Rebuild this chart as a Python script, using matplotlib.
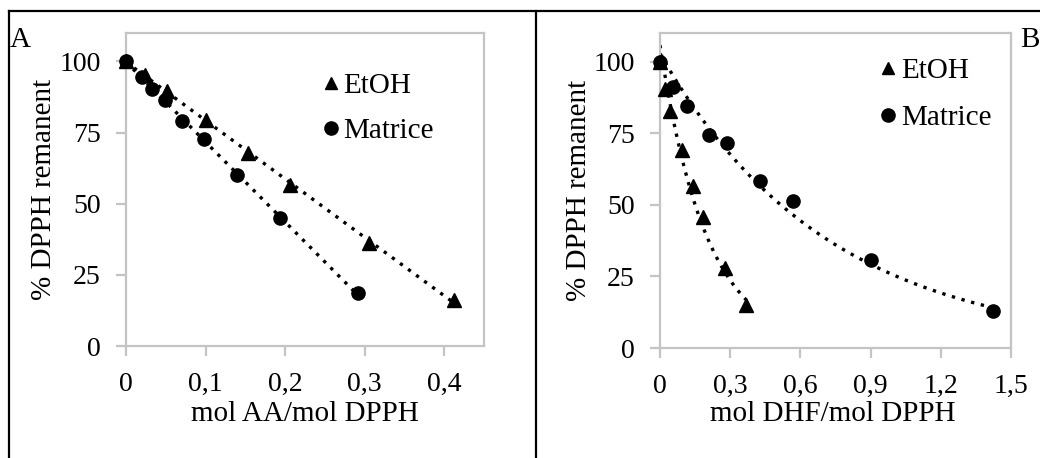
import numpy as np
import matplotlib
matplotlib.use("Agg")
import matplotlib.pyplot as plt
from matplotlib.lines import Line2D

plt.rcParams['font.family'] = ['Liberation Serif', 'DejaVu Serif']

# Panel A data
a_etoh_x = [0.0, 0.024, 0.051, 0.101, 0.153, 0.206, 0.306, 0.412]
a_etoh_y = [100.0, 95.1, 89.5, 79.6, 67.8, 56.7, 36.2, 16.2]
a_mat_x = [0.0, 0.020, 0.033, 0.049, 0.070, 0.098, 0.140, 0.193, 0.291]
a_mat_y = [100.0, 94.6, 90.4, 86.3, 79.2, 72.9, 60.2, 45.0, 18.5]
a_xticks = [0.0, 0.1, 0.2, 0.3, 0.4]
a_xticklabels = ["0", "0,1", "0,2", "0,3", "0,4"]

# Panel B data
b_etoh_x = [0.0, 0.021, 0.043, 0.093, 0.140, 0.185, 0.278, 0.367]
b_etoh_y = [100.0, 90.6, 82.6, 69.2, 56.6, 45.7, 28.1, 15.0]
b_mat_x = [0.0, 0.054, 0.114, 0.211, 0.285, 0.427, 0.567, 0.900, 1.422]
b_mat_y = [100.0, 91.0, 84.4, 74.5, 71.6, 58.4, 51.4, 30.8, 13.0]
b_xticks = [0.0, 0.3, 0.6, 0.9, 1.2, 1.5]
b_xticklabels = ["0", "0,3", "0,6", "0,9", "1,2", "1,5"]

yticks = [0, 25, 50, 75, 100]
series_labels = ["EtOH", "Matrice"]

fig = plt.figure(figsize=(10.4, 4.58), dpi=100)
W, H = 1040, 458

def px_axes(l, r, t, b):
    return fig.add_axes([l / W, 1 - b / H, (r - l) / W, (b - t) / H])

axA = px_axes(126, 484, 33, 346)
axB = px_axes(660, 1011, 33, 348)

grey = '#c4c4c4'
FS_TICK = 20
FS = 21
dot_style = dict(color='black', linestyle=(0, (1, 2)), linewidth=2.4)

def style(ax, xticks, xticklabels, xlim):
    ax.set_xlim(*xlim)
    ax.set_ylim(0, 110)
    ax.set_xticks(xticks)
    ax.set_xticklabels(xticklabels)
    ax.set_yticks(yticks)
    for s in ax.spines.values():
        s.set_color(grey)
        s.set_linewidth(1.6)
    ax.tick_params(axis='both', colors=grey, labelcolor='black', labelsize=FS_TICK,
                   direction='out', length=7, width=1.6)
    ax.tick_params(axis='y', pad=11)
    ax.tick_params(axis='x', pad=12)

def fit_line(x, y):
    p = np.polyfit(x, y, 1)
    xs = np.linspace(min(x), max(x), 100)
    return xs, np.polyval(p, xs)

def fit_exp(x, y):
    p = np.polyfit(x, np.log(y), 1)
    xs = np.linspace(min(x), max(x), 200)
    return xs, np.exp(np.polyval(p, xs))

for ax, ex, ey, mx, my, fitter in [
    (axA, a_etoh_x, a_etoh_y, a_mat_x, a_mat_y, fit_line),
    (axB, b_etoh_x, b_etoh_y, b_mat_x, b_mat_y, fit_exp),
]:
    xs, ys = fitter(ex, ey)
    ax.plot(xs, ys, **dot_style, zorder=2)
    xs, ys = fitter(mx, my)
    ax.plot(xs, ys, **dot_style, zorder=2)
    ax.plot(ex, ey, linestyle='none', marker='^', markersize=9.5, color='black',
            label=series_labels[0], zorder=3, clip_on=False)
    ax.plot(mx, my, linestyle='none', marker='o', markersize=9.5, color='black',
            label=series_labels[1], zorder=3, clip_on=False)

style(axA, a_xticks, a_xticklabels, (0, 0.45))
style(axB, b_xticks, b_xticklabels, (0, 1.5))

axA.set_xlabel("mol AA/mol DPPH", fontsize=FS)
axB.set_xlabel("mol DHF/mol DPPH", fontsize=FS)
axA.set_ylabel("% DPPH remanent", fontsize=FS)
axB.set_ylabel("% DPPH remanent", fontsize=FS)
axA.xaxis.set_label_coords(0.5, (346 - 401) / 313)
axB.xaxis.set_label_coords((833 - 660) / 351, (348 - 401) / 315)
axA.yaxis.set_label_coords((57 - 126) / 358, 0.5)
axB.yaxis.set_label_coords((592 - 660) / 351, 0.5)

# legends (marker + label in axes coordinates)
def legend(ax, mx, tx, ys):
    for (marker, ms), label, y in zip([('^', 8.5), ('o', 9.5)], series_labels, ys):
        ax.plot([mx], [y], transform=ax.transAxes, marker=marker, markersize=ms,
                color='black', linestyle='none', clip_on=False)
        ax.text(tx, y, label, transform=ax.transAxes, fontsize=FS,
                ha='left', va='center_baseline')

legend(axA, (331 - 126) / 358, (343 - 126) / 358,
       [(346 - 83) / 313, (346 - 128) / 313])
legend(axB, (888 - 660) / 351, (901 - 660) / 351,
       [(348 - 68) / 315, (348 - 115) / 315])

fig.text(10 / W, 1 - 47 / H, "A", fontsize=FS, ha='left', va='baseline')
fig.text(1020 / W, 1 - 47 / H, "B", fontsize=FS, ha='left', va='baseline')

# table-like border lines
lw = 1.6
fig.add_artist(Line2D([9 / W, 1.0], [1 - 11 / H, 1 - 11 / H], color='black', lw=lw))
fig.add_artist(Line2D([9 / W, 9 / W], [0, 1 - 11 / H], color='black', lw=lw))
fig.add_artist(Line2D([536 / W, 536 / W], [0, 1 - 11 / H], color='black', lw=lw))

fig.savefig("out.png", dpi=100)
